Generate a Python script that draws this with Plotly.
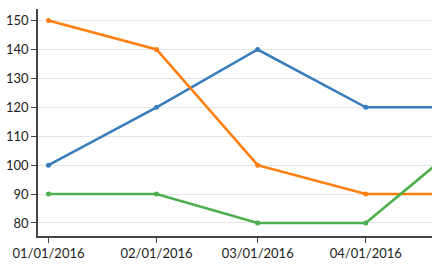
import plotly.graph_objects as go

dates = ["2016-01-01", "2016-02-01", "2016-03-01", "2016-04-01", "2016-05-01"]
blue = [100, 120, 140, 120, 120]
orange = [150, 140, 100, 90, 90]
green = [90, 90, 80, 80, 110]

colors = ["#3a7dbd", "#ff7f0e", "#4cae4c"]
fig = go.Figure()
for vals, c in zip([blue, orange, green], colors):
    fig.add_trace(go.Scatter(x=dates, y=vals, mode="lines+markers",
                             line=dict(color=c, width=2.6),
                             marker=dict(color=c, size=5), showlegend=False,
                             cliponaxis=True))

fig.update_layout(
    width=432, height=270, margin=dict(l=38, r=0, t=9, b=34),
    paper_bgcolor="white", plot_bgcolor="white",
    font=dict(family="Lato", size=13, color="#222"),
)
fig.update_xaxes(range=["2015-12-29", "2016-04-20"], tickvals=dates[:4],
                 tickformat="%m/%d/%Y", showgrid=False, showline=True,
                 linecolor="#444", linewidth=1.5, ticks="outside", ticklen=5,
                 tickcolor="#444", zeroline=False)
fig.update_yaxes(range=[75.5, 154], tickvals=[80, 90, 100, 110, 120, 130, 140, 150],
                 showgrid=True, gridcolor="#e6e6e6", showline=True,
                 linecolor="#444", linewidth=1.5, ticks="outside", ticklen=5,
                 tickcolor="#444", zeroline=False)
fig.write_html("out.html")
